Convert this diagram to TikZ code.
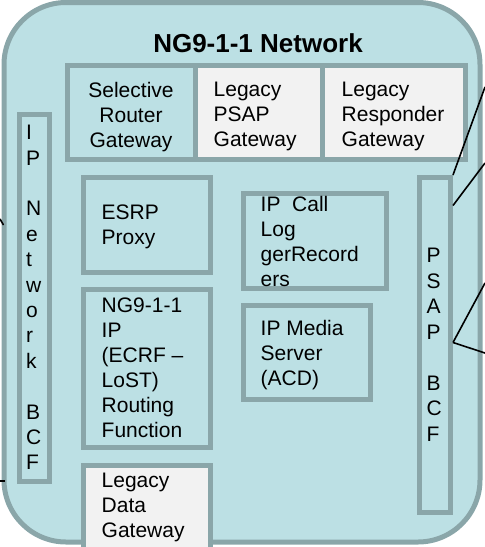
\documentclass[tikz,border=0pt]{standalone}
\usepackage{fontspec}
\setmainfont{Liberation Sans}
\usepackage{tikz}
\definecolor{ngfill}{RGB}{188,224,228}
\definecolor{ngedge}{RGB}{138,166,169}
\definecolor{gwgray}{RGB}{242,242,242}

\begin{document}
\begin{tikzpicture}[x=1pt,y=-1pt,
      box/.style={rectangle,draw=ngedge,line width=5pt,fill=ngfill,inner sep=0pt},
      gw/.style={box,fill=gwgray},
      lbl/.style={anchor=north west,inner sep=0pt,align=left,
        font=\fontsize{21}{25}\selectfont}]
      \useasboundingbox (0,0) rectangle (485,547);

      \node[box,rounded corners=62pt,minimum width=476pt,minimum height=539.5pt]
        (ng) at (242,272.25) {};

      \node[box,minimum width=128pt,minimum height=94pt] (srg) at (131.5,112.5) {};
      \node[gw,minimum width=127pt,minimum height=94pt] (lpg) at (259,112.5) {};
      \node[gw,minimum width=143pt,minimum height=94pt] (lrg) at (394,112.5) {};

      \node[box,minimum width=30pt,minimum height=366.5pt] (ipbcf) at (34.5,297.75) {};
      \node[box,minimum width=127pt,minimum height=95pt] (esrp) at (147,225) {};
      \node[box,minimum width=127pt,minimum height=158pt] (ecrf) at (147,368.5) {};
      \node[gw,minimum width=127pt,minimum height=104.5pt] (ldg) at (147,517.75) {};
      \node[box,minimum width=143pt,minimum height=95pt] (rec) at (315,241) {};
      \node[box,minimum width=127pt,minimum height=94pt] (media) at (307,352.5) {};
      \node[box,minimum width=31pt,minimum height=335pt] (psap) at (435,345) {};

      \node[inner sep=0pt,anchor=base,font=\fontsize{26}{30}\selectfont\bfseries]
        (title) at (258,52) {NG9-1-1 Network};

      \node[lbl,anchor=north,align=center] (srg-t) at (131,82) {Selective\\Router\\Gateway};
      \node[lbl] (lpg-t) at (213.5,82) {Legacy\\PSAP\\Gateway};
      \node[lbl] (lrg-t) at (341.5,82) {Legacy\\Responder\\Gateway};
      \node[lbl,font=\fontsize{21}{25.4}\selectfont] (ipbcf-t) at (26,125)
        {I\\P\\ \\N\\e\\t\\w\\o\\r\\k\\ \\B\\C\\F};
      \node[lbl] (esrp-t) at (101.5,205) {ESRP\\Proxy};
      \node[lbl] (ecrf-t) at (101.5,298)
        {NG9-1-1\\IP\\(ECRF –\\LoST)\\Routing\\Function};
      \node[lbl] (ldg-t) at (101.5,473) {Legacy\\Data\\Gateway};
      \node[lbl] (rec-t) at (260.5,196) {IP\ \ Call\\Log\\gerRecord\\ers};
      \node[lbl] (media-t) at (260.5,320) {IP Media\\Server\\(ACD)};
      \node[lbl,font=\fontsize{21}{25.5}\selectfont] (psap-t) at (426.5,248)
        {P\\S\\A\\P\\ \\B\\C\\F};

      \coordinate (r1) at (485,87);
      \coordinate (r2) at (485,163);
      \coordinate (r3) at (485,283);
      \coordinate (r4) at (485,353);
      \coordinate (l1) at (0,219);
      \coordinate (l2) at (3.5,225);
      \coordinate (l3) at (0,481);
      \coordinate (l4) at (5,481);

      \path[line width=1.6pt]
      (r1) edge (psap.north east)
      (r2) edge ([yshift=-30.5pt]psap.north east)
      (r3) edge ([yshift=-167.5pt]psap.north east)
      ([yshift=-167.5pt]psap.north east) edge (r4)
      (l1) edge (l2)
      (l3) edge (l4)
      ;
\end{tikzpicture}
\end{document}
